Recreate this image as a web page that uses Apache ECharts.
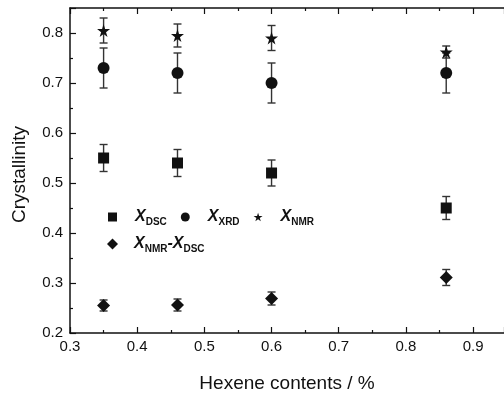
<!DOCTYPE html>
<html>
<head>
<meta charset="utf-8">
<script src="https://cdn.jsdelivr.net/npm/echarts@6/dist/echarts.min.js"></script>
<style>
  html, body { margin: 0; padding: 0; background: #fff; }
  #chart { width: 504px; height: 393px; }
</style>
</head>
<body>
<div id="chart"></div>
<script>
// hexene content (%) of the four samples
const hexene = [0.35, 0.46, 0.60, 0.86];

const xDSC = [0.55, 0.54, 0.52, 0.45];
const errDSC = [0.027, 0.027, 0.026, 0.023];
const xXRD = [0.73, 0.72, 0.70, 0.72];
const errXRD = [0.04, 0.04, 0.04, 0.04];
const xNMR = [0.805, 0.795, 0.79, 0.762];
const errNMR = [0.025, 0.023, 0.025, 0.012];
const xDiff = [0.255, 0.256, 0.269, 0.311];
const errDiff = [0.011, 0.012, 0.013, 0.016];

const xTicks = [0.3, 0.4, 0.5, 0.6, 0.7, 0.8, 0.9];
const yTicks = [0.2, 0.3, 0.4, 0.5, 0.6, 0.7, 0.8];

const FONT = "'Liberation Sans', Arial, sans-serif";
const STAR = "path://M50,0 L61,35 L98,35 L68,57 L79,91 L50,70 L21,91 L32,57 L2,35 L39,35 Z";
const DIAMOND = "path://M0,-1 L1,0 L0,1 L-1,0 Z";

const legendLabels = {
  DSC: "{x|X}{s|DSC}",
  XRD: "{x|X}{s|XRD}",
  NMR: "{x|X}{s|NMR}",
  DIFF: "{x|X}{s|NMR}{h|-X}{s|DSC}",
};

const pairs = (vals) => hexene.map((x, i) => [x, vals[i]]);
const bars = (vals, err) => hexene.map((x, i) => [x, vals[i] - err[i], vals[i] + err[i]]);

const chart = echarts.init(document.getElementById("chart"));

function renderErr(params, api) {
  const x = api.value(0);
  const lo = api.coord([x, api.value(1)]);
  const hi = api.coord([x, api.value(2)]);
  const w = 4;
  const style = { stroke: "#333", lineWidth: 1.4 };
  return {
    type: "group",
    children: [
      { type: "line", shape: { x1: lo[0], y1: lo[1], x2: hi[0], y2: hi[1] }, style },
      { type: "line", shape: { x1: lo[0] - w, y1: lo[1], x2: lo[0] + w, y2: lo[1] }, style },
      { type: "line", shape: { x1: hi[0] - w, y1: hi[1], x2: hi[0] + w, y2: hi[1] }, style },
    ],
  };
}

const errSeries = (name, data) => ({
  name: name,
  type: "custom",
  renderItem: renderErr,
  encode: { x: 0, y: [1, 2] },
  data: data,
  z: 1,
  silent: true,
});

const legendRich = {
  x: { fontFamily: FONT, fontSize: 16, fontWeight: "bold", fontStyle: "italic", color: "#111", lineHeight: 20, padding: [0, 0, 0, 13] },
  h: { fontFamily: FONT, fontSize: 16, fontWeight: "bold", fontStyle: "italic", color: "#111", lineHeight: 20 },
  s: { fontFamily: FONT, fontSize: 10, fontWeight: "bold", color: "#111", lineHeight: 20, verticalAlign: "bottom" },
};

const option = {
  animation: false,
  backgroundColor: "#fff",
  grid: { left: 70, right: 0, top: 8, bottom: 60, outerBoundsMode: "none", containLabel: false },
  legend: [
    {
      data: ["DSC", "XRD", "NMR"],
      left: 103,
      top: 204,
      itemWidth: 9,
      itemHeight: 9,
      itemGap: 14,
      formatter: (n) => legendLabels[n],
      textStyle: { rich: legendRich },
      selectedMode: false,
    },
    {
      data: ["DIFF"],
      left: 102,
      top: 231,
      itemWidth: 11,
      itemHeight: 11,
      formatter: (n) => legendLabels[n],
      textStyle: { rich: { ...legendRich, x: { ...legendRich.x, padding: [0, 0, 0, 11] } } },
      selectedMode: false,
    },
  ],
  xAxis: [
    {
      type: "value",
      min: 0.3,
      max: 0.946,
      interval: 0.1,
      name: "Hexene contents / %",
      nameLocation: "middle",
      nameGap: 41,
      nameTextStyle: { fontFamily: FONT, fontSize: 19, color: "#111" },
      axisLine: { lineStyle: { color: "#111", width: 1.5 } },
      axisTick: { inside: true, length: 6, lineStyle: { color: "#111", width: 1.2 } },
      minorTick: { show: true, splitNumber: 2, length: 3, lineStyle: { color: "#111", width: 1.2 } },
      splitLine: { show: false },
      axisLabel: {
        fontFamily: FONT,
        fontSize: 15,
        color: "#111",
        margin: 6,
        formatter: (v) => (xTicks.some((t) => Math.abs(t - v) < 1e-6) ? v.toFixed(1) : ""),
      },
    },
    {
      type: "value",
      position: "top",
      min: 0.3,
      max: 0.946,
      interval: 0.1,
      axisLine: { show: true, lineStyle: { color: "#111", width: 1.5 } },
      axisTick: { inside: true, length: 6, lineStyle: { color: "#111", width: 1.2 } },
      minorTick: { show: true, splitNumber: 2, length: 3, lineStyle: { color: "#111", width: 1.2 } },
      splitLine: { show: false },
      axisLabel: { show: false },
    },
  ],
  yAxis: {
    type: "value",
    min: 0.2,
    max: 0.85,
    interval: 0.1,
    name: "Crystallinity",
    nameLocation: "middle",
    nameGap: 41,
    nameTextStyle: { fontFamily: FONT, fontSize: 19, color: "#111", padding: [0, 8, 0, 0] },
    axisLine: { show: true, lineStyle: { color: "#111", width: 1.5 } },
    axisTick: { inside: true, length: 6, lineStyle: { color: "#111", width: 1.2 } },
    minorTick: { show: true, splitNumber: 2, length: 3, lineStyle: { color: "#111", width: 1.2 } },
    splitLine: { show: false },
    axisLabel: {
      fontFamily: FONT,
      fontSize: 15,
      color: "#111",
      margin: 7,
      showMaxLabel: false,
      formatter: (v) => (yTicks.some((t) => Math.abs(t - v) < 1e-6) ? v.toFixed(1) : ""),
    },
  },
  series: [
    errSeries("errDSC", bars(xDSC, errDSC)),
    errSeries("errXRD", bars(xXRD, errXRD)),
    errSeries("errNMR", bars(xNMR, errNMR)),
    errSeries("errDiff", bars(xDiff, errDiff)),
    { name: "DSC", type: "scatter", symbol: "rect", symbolSize: 11, data: pairs(xDSC), itemStyle: { color: "#111", opacity: 1 }, z: 3 },
    { name: "XRD", type: "scatter", symbol: "circle", symbolSize: 12, data: pairs(xXRD), itemStyle: { color: "#111", opacity: 1 }, z: 3 },
    { name: "NMR", type: "scatter", symbol: STAR, symbolSize: 13, data: pairs(xNMR), itemStyle: { color: "#111", opacity: 1 }, z: 3 },
    { name: "DIFF", type: "scatter", symbol: DIAMOND, symbolSize: 13, data: pairs(xDiff), itemStyle: { color: "#111", opacity: 1 }, z: 3 },
  ],
};

chart.setOption(option);
</script>
</body>
</html>
